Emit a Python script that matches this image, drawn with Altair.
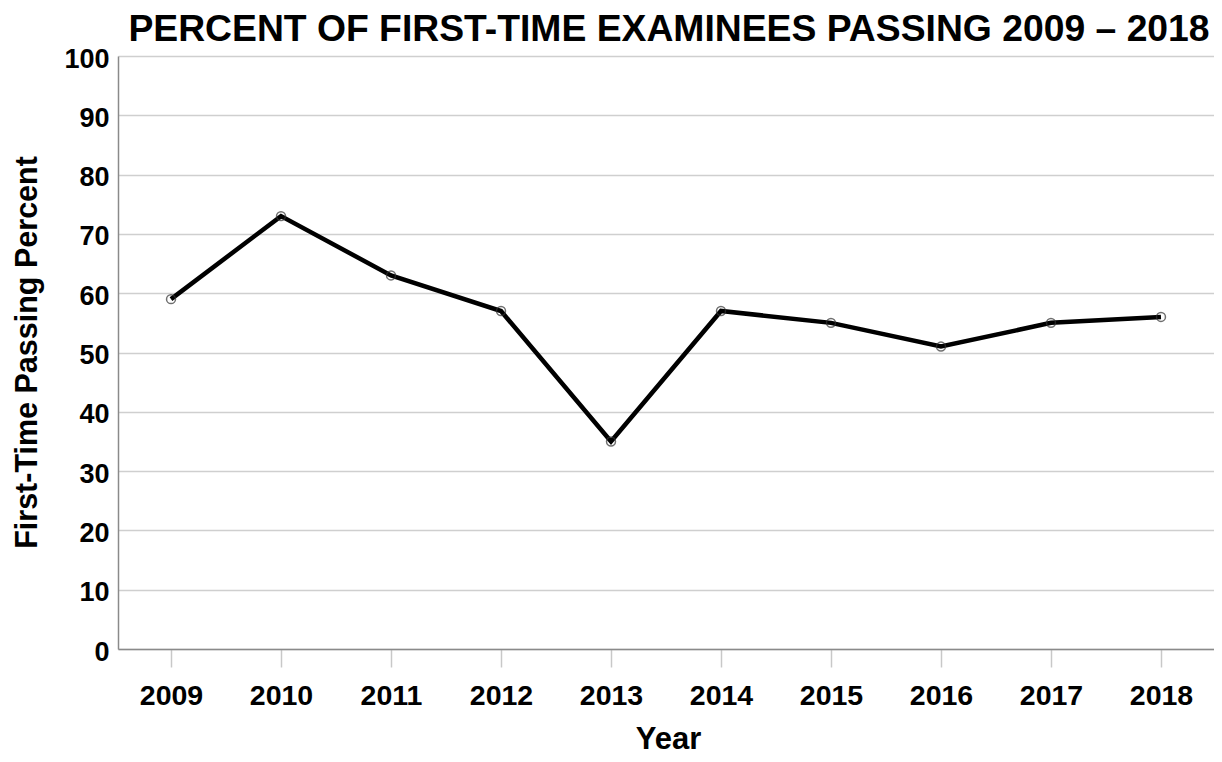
import altair as alt
import pandas as pd

years = ["2009", "2010", "2011", "2012", "2013", "2014", "2015", "2016", "2017", "2018"]
passing = [59, 73, 63, 57, 35, 57, 55, 51, 55, 56]

df = pd.DataFrame({"Year": years, "Pct": passing})

FONT = "Liberation Sans"

x = alt.X(
    "Year:O",
    title="Year",
    scale=alt.Scale(type="point", padding=0.482),
    axis=alt.Axis(
        labelAngle=0,
        labelFont=FONT, labelFontSize=28.5, labelFontWeight="bold", labelColor="#000",
        labelPadding=14, labelBaseline="top",
        tickSize=18, tickColor="#c8c8c8", tickWidth=1.5,
        domainColor="#8a8a8a", domainWidth=1.5,
        grid=False,
        titleFont=FONT, titleFontSize=31, titleFontWeight="bold", titleColor="#000",
        titleBaseline="alphabetic", titleY=99, titleX=550,
    ),
)
y = alt.Y(
    "Pct:Q",
    title="First-Time Passing Percent",
    scale=alt.Scale(domain=[0, 100], nice=False, zero=True),
    axis=alt.Axis(
        values=list(range(0, 101, 10)),
        labelFont=FONT, labelFontSize=27, labelFontWeight="bold", labelColor="#000",
        labelPadding=9, labelOffset=3,
        ticks=False,
        domainColor="#8a8a8a", domainWidth=1.5,
        grid=True, gridColor="#cfcfcf", gridWidth=1.5,
        titleFont=FONT, titleFontSize=30.5, titleFontWeight="bold", titleColor="#000",
        titleBaseline="alphabetic", titleAngle=270, titleX=-82, titleY=296,
    ),
)

line = alt.Chart(df).mark_line(color="#000", strokeWidth=4.5).encode(x=x, y=y)
pts = alt.Chart(df).mark_point(
    filled=False, shape="circle", size=80, stroke="#333", strokeWidth=1.5
).encode(x=x, y=y)

chart = (
    alt.layer(line, pts)
    .properties(
        width=1096,
        height=593,
        title=alt.TitleParams(
            "PERCENT OF FIRST-TIME EXAMINEES PASSING 2009 – 2018",
            font=FONT, fontSize=37.3, fontWeight="bold", color="#000",
            anchor="middle", frame="group", offset=0, dy=4, dx=3,
        ),
        padding={"left": 110, "top": 48, "right": 0, "bottom": 105},
        autosize=alt.AutoSizeParams(type="none"),
    )
    .configure_view(stroke=None)
)

chart.save("out.html", embed_options={"renderer": "svg", "actions": False})
